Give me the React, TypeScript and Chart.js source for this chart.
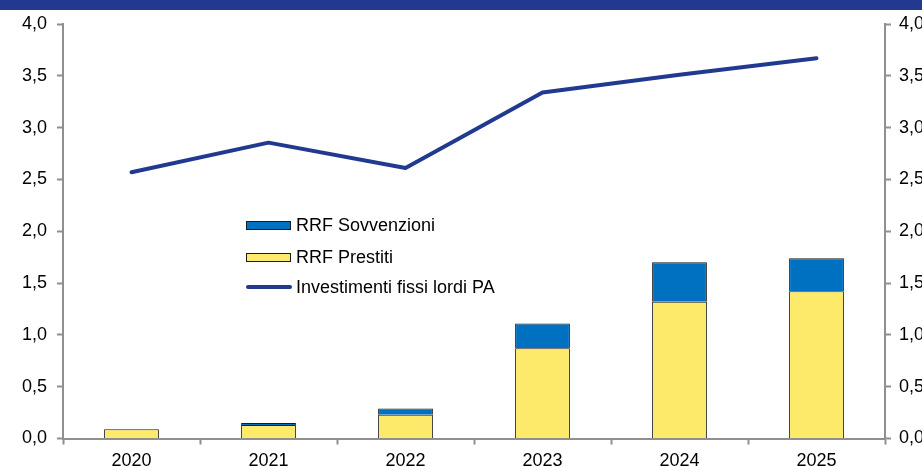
import React, { useEffect, useRef } from "react";
import { Chart, registerables } from "chart.js";

Chart.register(...registerables);

const categories = ["2020", "2021", "2022", "2023", "2024", "2025"];
const prestiti = [0.09, 0.13, 0.23, 0.87, 1.32, 1.42];
const sovvenzioni = [0.0, 0.02, 0.06, 0.24, 0.38, 0.32];
const investimenti = [2.57, 2.855, 2.61, 3.34, 3.51, 3.67];

const labelSovv = "RRF Sovvenzioni";
const labelPrest = "RRF Prestiti";
const labelInv = "Investimenti fissi lordi PA";

const BLUE = "#0070C0";
const YELLOW = "#FDEA6A";
const NAVY = "#21398F";
const AXIS = "#8f8f8f";
const FONT = "'Liberation Sans', Arial, sans-serif";

const fmt = (v: number | string) => Number(v).toFixed(1).replace(".", ",");

export default function App() {
  const ref = useRef<HTMLCanvasElement | null>(null);

  useEffect(() => {
    document.body.style.margin = "0";
    document.body.style.overflow = "hidden";
    const ctx = ref.current!.getContext("2d")!;
    const chart = new Chart(ctx, {
      type: "bar",
      data: {
        labels: categories,
        datasets: [
          {
            type: "bar",
            label: labelPrest,
            data: prestiti,
            backgroundColor: YELLOW,
            borderColor: "#1a1a1a",
            borderWidth: 1,
            yAxisID: "y",
            stack: "rrf",
            order: 2,
          },
          {
            type: "bar",
            label: labelSovv,
            data: sovvenzioni,
            backgroundColor: BLUE,
            borderColor: "#1a1a1a",
            borderWidth: 1,
            yAxisID: "y",
            stack: "rrf",
            order: 2,
          },
          {
            type: "line",
            label: labelInv,
            data: investimenti,
            borderColor: NAVY,
            backgroundColor: NAVY,
            borderWidth: 4,
            pointRadius: 0,
            borderCapStyle: "round",
            borderJoinStyle: "round",
            tension: 0,
            yAxisID: "y2",
            order: 1,
          },
        ],
      },
      options: {
        animation: false,
        responsive: false,
        maintainAspectRatio: false,
        layout: { padding: { top: 24, bottom: 0, left: 0, right: 0 } },
        datasets: {
          bar: { barPercentage: 0.4, categoryPercentage: 1 },
        },
        plugins: {
          legend: { display: false },
          tooltip: { enabled: false },
          title: { display: false },
        },
        scales: {
          x: {
            stacked: true,
            grid: {
              display: true,
              drawOnChartArea: false,
              drawTicks: true,
              tickLength: 6,
              tickColor: AXIS,
              tickWidth: 2,
              offset: true,
            },
            border: { display: true, color: AXIS, width: 2 },
            ticks: {
              color: "#000",
              font: { family: FONT, size: 18 },
              padding: 6,
              maxRotation: 0,
            },
            afterFit: (s: any) => {
              s.height = 27.5;
            },
          },
          y: {
            position: "left",
            stacked: true,
            min: 0,
            max: 4,
            grid: {
              display: true,
              drawOnChartArea: false,
              tickLength: 6,
              tickColor: AXIS,
              tickWidth: 2,
            },
            border: { display: true, color: AXIS, width: 2 },
            ticks: {
              stepSize: 0.5,
              color: "#000",
              font: { family: FONT, size: 18 },
              padding: 10,
              callback: (v: any) => fmt(v),
            },
            afterFit: (s: any) => {
              s.width = 63;
            },
          },
          y2: {
            position: "right",
            min: 0,
            max: 4,
            grid: {
              display: true,
              drawOnChartArea: false,
              tickLength: 6,
              tickColor: AXIS,
              tickWidth: 2,
            },
            border: { display: true, color: AXIS, width: 2 },
            ticks: {
              stepSize: 0.5,
              color: "#000",
              font: { family: FONT, size: 18 },
              padding: 8,
              callback: (v: any) => fmt(v),
            },
            afterFit: (s: any) => {
              s.width = 37;
            },
          },
        },
      },
    } as any);
    return () => chart.destroy();
  }, []);

  const textStyle: React.CSSProperties = {
    position: "absolute",
    left: 296,
    fontFamily: FONT,
    fontSize: 18,
    color: "#000",
    lineHeight: "20px",
    whiteSpace: "nowrap",
  };

  return (
    <div
      style={{
        position: "fixed",
        left: 0,
        top: 0,
        width: 922,
        height: 466,
        background: "#fff",
        overflow: "hidden",
      }}
    >
      <canvas
        ref={ref}
        width={922}
        height={466}
        style={{ position: "absolute", left: 0, top: 0, width: 922, height: 466 }}
      />
      <div
        style={{
          position: "absolute",
          left: 0,
          top: 0,
          width: 922,
          height: 10,
          background: NAVY,
        }}
      />
      {/* legend */}
      <div
        style={{
          position: "absolute",
          left: 246,
          top: 221,
          width: 43,
          height: 7,
          background: BLUE,
          border: "1px solid #1a1a1a",
        }}
      />
      <div style={{ ...textStyle, top: 215 }}>{labelSovv}</div>
      <div
        style={{
          position: "absolute",
          left: 246,
          top: 253,
          width: 43,
          height: 7,
          background: YELLOW,
          border: "1px solid #1a1a1a",
        }}
      />
      <div style={{ ...textStyle, top: 247 }}>{labelPrest}</div>
      <div
        style={{
          position: "absolute",
          left: 246,
          top: 285,
          width: 46,
          height: 4,
          background: NAVY,
          borderRadius: 2,
        }}
      />
      <div style={{ ...textStyle, top: 277 }}>{labelInv}</div>
    </div>
  );
}
